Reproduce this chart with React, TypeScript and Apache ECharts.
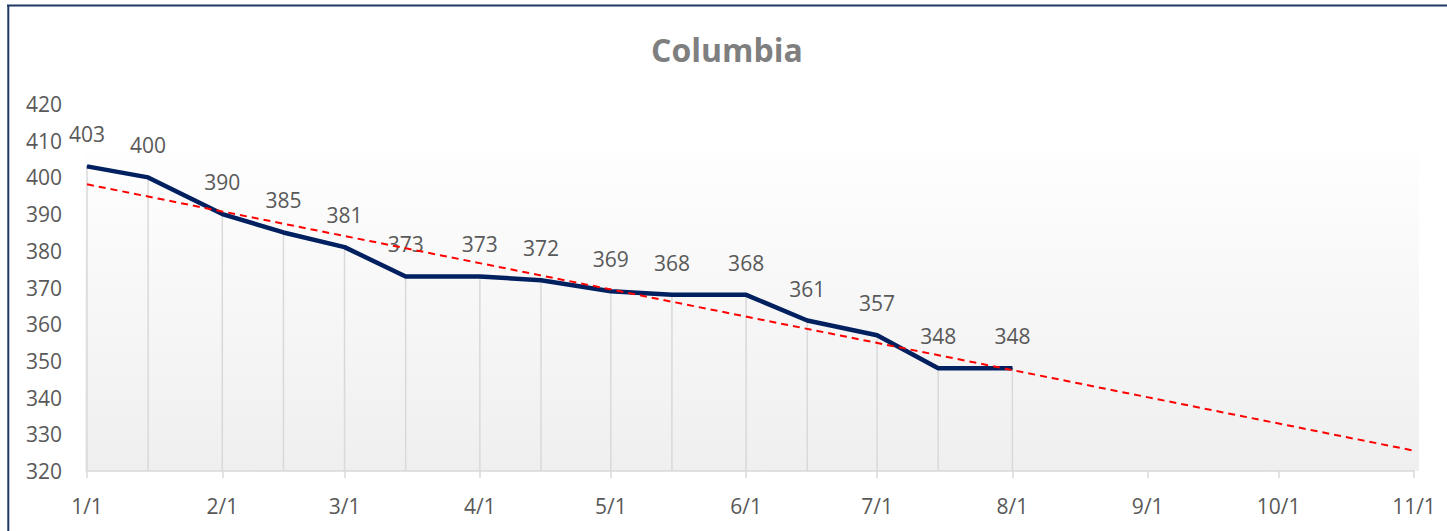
import React, { useEffect, useRef } from "react";
import * as echarts from "echarts";

const title = "Columbia";
const dates = ["1/1", "1/15", "2/1", "2/15", "3/1", "3/15", "4/1", "4/15", "5/1", "5/15", "6/1", "6/15", "7/1", "7/15", "8/1"];
const values = [403, 400, 390, 385, 381, 373, 373, 372, 369, 368, 368, 361, 357, 348, 348];
const xTickLabels = ["1/1", "2/1", "3/1", "4/1", "5/1", "6/1", "7/1", "8/1", "9/1", "10/1", "11/1"];
const yMin = 320;
const yMax = 420;
const yInterval = 10;
const YEAR = 2023;

function dayOffset(md: string): number {
  const [m, d] = md.split("/").map(Number);
  return Math.round((Date.UTC(YEAR, m - 1, d) - Date.UTC(YEAR, 0, 1)) / 86400000);
}

export default function App() {
  const ref = useRef<HTMLDivElement>(null);
  useEffect(() => {
    if (!ref.current) return;
    const chart = echarts.init(ref.current, undefined, { renderer: "svg" });
    const xs = dates.map(dayOffset);
    const points = xs.map((x, i) => [x, values[i]]);
    const tickXs = xTickLabels.map(dayOffset);
    const labelMap: Record<number, string> = {};
    tickXs.forEach((x, i) => (labelMap[x] = xTickLabels[i]));
    const xEnd = tickXs[tickXs.length - 1];
    // linear trendline (least squares)
    const n = xs.length;
    const mx = xs.reduce((a, b) => a + b, 0) / n;
    const my = values.reduce((a, b) => a + b, 0) / n;
    let sxy = 0, sxx = 0;
    for (let i = 0; i < n; i++) {
      sxy += (xs[i] - mx) * (values[i] - my);
      sxx += (xs[i] - mx) * (xs[i] - mx);
    }
    const slope = sxy / sxx;
    const icpt = my - slope * mx;
    const trend = [[0, icpt], [xEnd, icpt + slope * xEnd]];

    const font = "'Open Sans', sans-serif";
    chart.setOption({
      animation: false,
      backgroundColor: "#ffffff",
      title: {
        text: title,
        left: 646,
        top: 28,
        textStyle: { fontFamily: font, fontSize: 32, fontWeight: "bold", color: "#7f7f7f" },
      },
      graphic: [
        {
          type: "rect",
          z: -10,
          silent: true,
          shape: { x: 85, y: 152, width: 1334, height: 319 },
          style: {
            fill: new echarts.graphic.LinearGradient(0, 0, 0, 1, [
              { offset: 0, color: "#fefefe" },
              { offset: 1, color: "#efefef" },
            ]),
          },
        },
        {
          type: "line",
          silent: true,
          shape: { x1: 7, y1: 5.5, x2: 1447, y2: 5.5 },
          style: { stroke: "#1f3864", lineWidth: 2 },
        },
        {
          type: "line",
          silent: true,
          shape: { x1: 8.3, y1: 5, x2: 8.3, y2: 531 },
          style: { stroke: "#1f3864", lineWidth: 2 },
        },
      ],
      grid: { left: 87, right: 33, top: 104, bottom: 60, containLabel: false },
      xAxis: {
        type: "value",
        min: 0,
        max: xEnd,
        axisLine: { show: true, lineStyle: { color: "#d9d9d9", width: 1.5 } },
        axisTick: { show: true, inside: false, length: 7, customValues: tickXs, lineStyle: { color: "#d9d9d9", width: 1.5 } },
        axisLabel: {
          customValues: tickXs,
          formatter: (v: number) => labelMap[Math.round(v)] ?? "",
          margin: 24,
          fontFamily: font,
          fontSize: 21,
          color: "#595959",
        },
        splitLine: { show: false },
      },
      yAxis: {
        type: "value",
        min: yMin,
        max: yMax,
        interval: yInterval,
        axisLine: { show: false },
        axisTick: { show: false },
        splitLine: { show: false },
        axisLabel: { margin: 25, fontFamily: font, fontSize: 21, color: "#595959" },
      },
      series: [
        {
          type: "custom",
          z: 1,
          silent: true,
          data: points,
          renderItem: (params: any, api: any) => {
            const top = api.coord([api.value(0), api.value(1)]);
            const bot = api.coord([api.value(0), yMin]);
            return {
              type: "line",
              shape: { x1: top[0], y1: top[1], x2: bot[0], y2: bot[1] },
              style: { stroke: "#d9d9d9", lineWidth: 1.5 },
            };
          },
        },
        {
          type: "line",
          z: 3,
          data: points,
          symbol: "circle",
          symbolSize: 1,
          showSymbol: true,
          itemStyle: { color: "#002060" },
          lineStyle: { color: "#002060", width: 4.5 },
          label: {
            show: true,
            position: "top",
            distance: 21,
            fontFamily: font,
            fontSize: 21,
            color: "#595959",
            formatter: (p: any) => String(p.value[1]),
          },
        },
        {
          type: "line",
          z: 4,
          data: trend,
          symbol: "none",
          silent: true,
          lineStyle: { color: "#ff0000", width: 2, type: [7, 5] },
        },
      ],
    });
    return () => chart.dispose();
  }, []);
  return (
    <div style={{ position: "absolute", left: 0, top: 0, width: 1447, height: 531 }}>
      <div ref={ref} style={{ width: 1447, height: 531 }} />
    </div>
  );
}
